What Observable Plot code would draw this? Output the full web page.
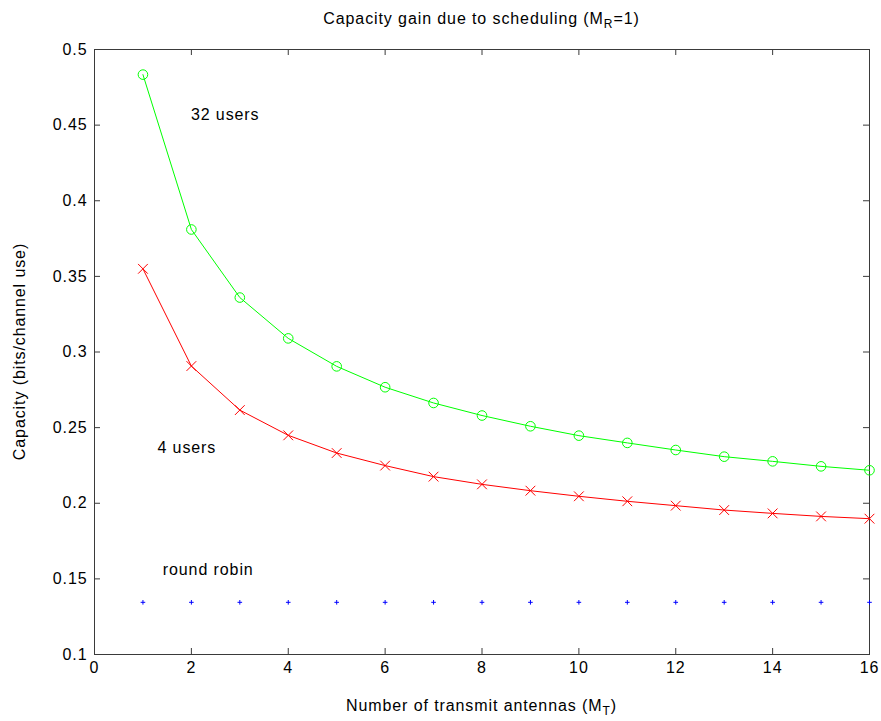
<!DOCTYPE html>
<html>
<head>
<meta charset="utf-8">
<script src="https://cdn.jsdelivr.net/npm/d3@7"></script>
<script src="https://cdn.jsdelivr.net/npm/@observablehq/plot@0.6"></script>
<style>
  html, body { margin: 0; padding: 0; background: #fff; }
</style>
</head>
<body>
<div id="chart"></div>
<script>
const antennas = [1, 2, 3, 4, 5, 6, 7, 8, 9, 10, 11, 12, 13, 14, 15, 16];
const users32 = [0.4834, 0.381, 0.336, 0.309, 0.2905, 0.2767, 0.2663, 0.258, 0.2509, 0.2447, 0.2399, 0.2352, 0.2308, 0.2277, 0.2244, 0.2218];
const users4 = [0.355, 0.2907, 0.2616, 0.2449, 0.2332, 0.2249, 0.2176, 0.2125, 0.2083, 0.2046, 0.2013, 0.1984, 0.1955, 0.1933, 0.1913, 0.1898];
const roundRobin = [0.1345, 0.1345, 0.1345, 0.1345, 0.1345, 0.1345, 0.1345, 0.1345, 0.1345, 0.1345, 0.1345, 0.1345, 0.1345, 0.1345, 0.1345, 0.1345];
const xTicks = [0, 2, 4, 6, 8, 10, 12, 14, 16];
const yTicks = [0.1, 0.15, 0.2, 0.25, 0.3, 0.35, 0.4, 0.45, 0.5];
const annotations = [
  { label: "32 users", x: 1.99, y: 0.457 },
  { label: "4 users", x: 1.30, y: 0.2368 },
  { label: "round robin", x: 1.41, y: 0.156 }
];

const d32 = antennas.map((a, i) => ({ a, v: users32[i] }));
const d4 = antennas.map((a, i) => ({ a, v: users4[i] }));
const dRR = antennas.map((a, i) => ({ a, v: roundRobin[i] }));

const W = 881, H = 721;
const mL = 94, mR = 12, mT = 49, mB = 67;
const plotW = W - mL - mR, plotH = H - mT - mB;
const tickLen = 6;
const axisColor = "#3a3a3a";
const font = "'Liberation Sans', Arial, Helvetica, sans-serif";
const fs = 16;
const ls = "0.9px";

const chart = Plot.plot({
  width: W,
  height: H,
  marginLeft: mL,
  marginRight: mR,
  marginTop: mT,
  marginBottom: mB,
  x: { domain: [0, 16] },
  y: { domain: [0.1, 0.5] },
  style: { fontFamily: font, fontSize: fs + "px", letterSpacing: ls, background: "#fff", color: "#000" },
  marks: [
    // inward ticks on all four sides
    Plot.tickX(xTicks, { x: d => d, stroke: axisColor, insetTop: plotH - tickLen }),
    Plot.tickX(xTicks, { x: d => d, stroke: axisColor, insetBottom: plotH - tickLen }),
    Plot.tickY(yTicks, { y: d => d, stroke: axisColor, insetRight: plotW - tickLen }),
    Plot.tickY(yTicks, { y: d => d, stroke: axisColor, insetLeft: plotW - tickLen }),
    Plot.frame({ stroke: axisColor }),
    Plot.axisX(xTicks, { tickSize: 0, tickPadding: 7, fontSize: fs, label: null, tickFormat: d => String(d), fill: "#000" }),
    Plot.axisY(yTicks, { tickSize: 0, tickPadding: 7, fontSize: fs, label: null, tickFormat: d => String(d), fill: "#000" }),
    // 32 users
    Plot.line(d32, { x: "a", y: "v", stroke: "#00ff00", strokeWidth: 1 }),
    Plot.dot(d32, { x: "a", y: "v", stroke: "#00ff00", fill: "none", r: 4.8, strokeWidth: 1 }),
    // 4 users
    Plot.line(d4, { x: "a", y: "v", stroke: "#ff0000", strokeWidth: 1 }),
    Plot.dot(d4, { x: "a", y: "v", stroke: "#ff0000", fill: "none", symbol: "times", r: 4.5, strokeWidth: 1 }),
    // round robin
    Plot.dot(dRR, { x: "a", y: "v", fill: "#0000ff", stroke: "#0000ff", symbol: "plus", r: 1.6, strokeWidth: 1 }),
    // annotations
    Plot.text(annotations, { x: "x", y: "y", text: "label", textAnchor: "start", fontSize: fs, fill: "#000" })
  ]
});

// Title and axis labels with subscripts
const svg = d3.select(chart);
const cx = mL + plotW / 2;
function subText(x, y, parts, rotate) {
  const t = svg.append("text")
    .attr("x", x).attr("y", y)
    .attr("text-anchor", "middle")
    .attr("font-family", font)
    .attr("font-size", fs)
    .attr("letter-spacing", ls)
    .attr("fill", "#000");
  if (rotate) t.attr("transform", `rotate(-90, ${x}, ${y})`);
  parts.forEach(p => {
    const ts = t.append("tspan").text(p.t);
    if (p.sub) ts.attr("font-size", 12).attr("dy", 4);
    else if (p.after) ts.attr("dy", -4);
  });
  return t;
}
subText(cx, 24, [{ t: "Capacity gain due to scheduling (M" }, { t: "R", sub: true }, { t: "=1)", after: true }]);
subText(cx, 711, [{ t: "Number of transmit antennas (M" }, { t: "T", sub: true }, { t: ")", after: true }]);
subText(25, mT + plotH / 2, [{ t: "Capacity (bits/channel use)" }], true);

document.getElementById("chart").appendChild(chart);
</script>
</body>
</html>
